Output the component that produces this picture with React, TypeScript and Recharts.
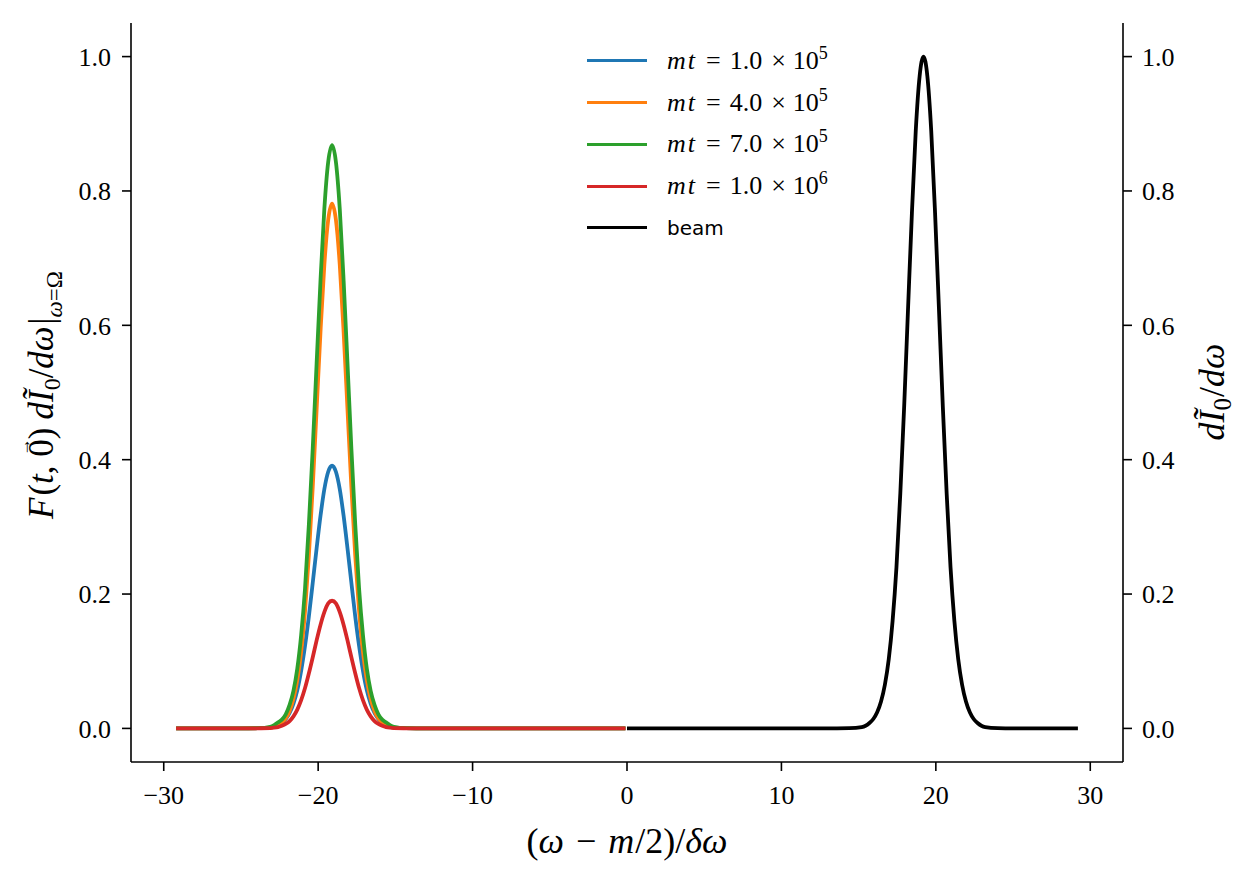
import { LineChart, Line, XAxis, YAxis, Legend } from 'recharts'

// frequency grid (in units of delta omega) for the left-hand peaks
const LEFT_X = [
  -29.2, -27, -25, -23.9,
  -23.1, -22.85, -22.6, -22.35, -22.1, -21.85, -21.6, -21.35, -21.1, -20.85, -20.6, -20.35, -20.1,
  -19.85, -19.6, -19.35, -19.1,
  -18.85, -18.6, -18.35, -18.1, -17.85, -17.6, -17.35, -17.1, -16.85, -16.6, -16.35, -16.1,
  -15.85, -15.6, -15.35, -15.1,
  -14.3, -13, -10, -5, -0.1,
]

const MT_1E5 = [
  0, 0, 0, 0.0003,
  0.0012, 0.0023, 0.0043, 0.008, 0.014, 0.023, 0.037, 0.057, 0.086, 0.123, 0.167, 0.217, 0.268,
  0.316, 0.356, 0.382, 0.391,
  0.382, 0.356, 0.316, 0.268, 0.217, 0.167, 0.123, 0.086, 0.057, 0.037, 0.023, 0.014,
  0.008, 0.0043, 0.0023, 0.0012,
  0.0003, 0, 0, 0, 0,
]

const MT_4E5 = [
  0, 0, 0, 0.0003,
  0.001, 0.0025, 0.005, 0.009, 0.015, 0.026, 0.044, 0.072, 0.114, 0.175, 0.258, 0.36, 0.475,
  0.59, 0.69, 0.757, 0.781,
  0.757, 0.69, 0.59, 0.475, 0.36, 0.258, 0.175, 0.114, 0.072, 0.044, 0.026, 0.015,
  0.009, 0.005, 0.0025, 0.001,
  0.0003, 0, 0, 0, 0,
]

const MT_7E5 = [
  0, 0, 0, 0.0004,
  0.0025, 0.005, 0.009, 0.013, 0.021, 0.035, 0.056, 0.089, 0.139, 0.208, 0.304, 0.417, 0.543,
  0.666, 0.773, 0.843, 0.868,
  0.843, 0.773, 0.666, 0.543, 0.417, 0.304, 0.208, 0.139, 0.089, 0.056, 0.035, 0.021,
  0.013, 0.009, 0.005, 0.0025,
  0.0004, 0, 0, 0, 0,
]

const MT_1E6 = [
  0, 0, 0, 0.0002,
  0.0005, 0.001, 0.002, 0.004, 0.0068, 0.011, 0.018, 0.028, 0.042, 0.06, 0.082, 0.106, 0.131,
  0.154, 0.173, 0.186, 0.19,
  0.186, 0.173, 0.154, 0.131, 0.106, 0.082, 0.06, 0.042, 0.028, 0.018, 0.011, 0.0068,
  0.004, 0.002, 0.001, 0.0005,
  0.0002, 0, 0, 0, 0,
]

// beam spectrum, right axis
const BEAM_X = [
  0, 5, 10, 13, 14.4,
  15.2, 15.45, 15.7, 15.95, 16.2, 16.45, 16.7, 16.95, 17.2, 17.45, 17.7, 17.95, 18.2,
  18.45, 18.7, 18.95, 19.2,
  19.45, 19.7, 19.95, 20.2, 20.45, 20.7, 20.95, 21.2, 21.45, 21.7, 21.95, 22.2,
  22.45, 22.7, 22.95, 23.2,
  24, 25, 27, 29.2,
]

const BEAM = [
  0, 0, 0, 0, 0.0003,
  0.002, 0.004, 0.008, 0.014, 0.024, 0.04, 0.065, 0.103, 0.16, 0.24, 0.35, 0.48, 0.625,
  0.767, 0.89, 0.971, 1.0,
  0.971, 0.89, 0.767, 0.625, 0.48, 0.35, 0.24, 0.16, 0.103, 0.065, 0.04, 0.024,
  0.014, 0.008, 0.004, 0.002,
  0.0003, 0, 0, 0,
]

const X_TICKS = [-30, -20, -10, 0, 10, 20, 30]
const Y_TICKS = [0, 0.2, 0.4, 0.6, 0.8, 1.0]

const SERIES = [
  { key: 'mt1', color: '#1f77b4', mantissa: '1.0', exp: '5' },
  { key: 'mt4', color: '#ff7f0e', mantissa: '4.0', exp: '5' },
  { key: 'mt7', color: '#2ca02c', mantissa: '7.0', exp: '5' },
  { key: 'mt10', color: '#d62728', mantissa: '1.0', exp: '6' },
]

const leftData = LEFT_X.map((x, i) => ({
  x,
  mt1: MT_1E5[i],
  mt4: MT_4E5[i],
  mt7: MT_7E5[i],
  mt10: MT_1E6[i],
}))
const beamData = BEAM_X.map((x, i) => ({ x, beam: BEAM[i] }))

const SERIF = '"Liberation Serif", "DejaVu Serif", serif'
const SANS = '"DejaVu Sans", sans-serif'
const tickStyle = { fontFamily: SERIF, fontSize: 26, fill: '#000' }
const axisLine = { stroke: '#000', strokeWidth: 1.6 }

const fmtX = (v: number) => (v < 0 ? `\u2212${Math.abs(v)}` : `${v}`)
const fmtY = (v: number) => v.toFixed(1)

function LeftLabel() {
  return (
    <text
      transform="translate(53, 395) rotate(-90)"
      textAnchor="middle"
      fontFamily={SERIF}
      fontSize={35}
      fill="#000"
    >
      <tspan fontStyle="italic">F</tspan>
      <tspan dx={2}>(</tspan>
      <tspan fontStyle="italic">t</tspan>
      <tspan>, 0</tspan>
      <tspan fontSize={18} dx={-17} dy={-23}>{'\u2192'}</tspan>
      <tspan dx={-1} dy={23}>)</tspan>
      <tspan dx={8} fontStyle="italic">d{'\u0128'}</tspan>
      <tspan fontSize={24} dy={7}>0</tspan>
      <tspan dy={-7}>/</tspan>
      <tspan fontStyle="italic">d{'\u03c9'}</tspan>
      <tspan dx={2}>|</tspan>
      <tspan fontSize={23} dy={9} fontStyle="italic">{'\u03c9'}</tspan>
      <tspan fontSize={23}>={'\u03a9'}</tspan>
    </text>
  )
}

function RightLabel() {
  return (
    <text
      transform="translate(1224, 392) rotate(-90)"
      textAnchor="middle"
      fontFamily={SERIF}
      fontSize={36}
      fill="#000"
    >
      <tspan fontStyle="italic">d{'\u0128'}</tspan>
      <tspan fontSize={25} dy={7}>0</tspan>
      <tspan dy={-7} dx={1}>/</tspan>
      <tspan fontStyle="italic">d{'\u03c9'}</tspan>
    </text>
  )
}

function BottomLabel() {
  return (
    <text x={627} y={853} textAnchor="middle" fontFamily={SERIF} fontSize={36} fill="#000">
      <tspan>(</tspan>
      <tspan fontStyle="italic">{'\u03c9'}</tspan>
      <tspan dx={12}>{'\u2212'}</tspan>
      <tspan dx={12} fontStyle="italic">m</tspan>
      <tspan dx={1}>/2)/</tspan>
      <tspan fontStyle="italic">{'\u03b4\u03c9'}</tspan>
    </text>
  )
}

function LegendBox() {
  const row = { display: 'flex', alignItems: 'center', height: 41.75, whiteSpace: 'nowrap' } as const
  const swatch = (c: string) => ({ width: 60, height: 0, borderTop: `3.5px solid ${c}`, marginRight: 20 })
  return (
    <div style={{ fontFamily: SERIF, fontSize: 26, color: '#000', lineHeight: 1 }}>
      {SERIES.map((s) => (
        <div key={s.key} style={row}>
          <div style={swatch(s.color)} />
          <span>
            <i style={{ letterSpacing: 2 }}>mt</i>
            <span style={{ margin: '0 9px 0 9px' }}>=</span>
            {s.mantissa}
            <span style={{ margin: '0 7px 0 9px' }}>{'\u00d7'}</span>
            10<sup style={{ fontSize: 18, lineHeight: 0, verticalAlign: 10 }}>{s.exp}</sup>
          </span>
        </div>
      ))}
      <div style={row}>
        <div style={swatch('#000')} />
        <span style={{ fontFamily: SANS, fontSize: 20 }}>beam</span>
      </div>
    </div>
  )
}

export default function App() {
  return (
    <div style={{ position: 'absolute', left: 0, top: 0, background: '#fff' }}>
      <LineChart width={1254} height={879} margin={{ top: 23, right: 61, bottom: 57, left: 61 }}>
        <XAxis
          xAxisId="bottom"
          dataKey="x"
          type="number"
          domain={[-32.12, 32.12]}
          ticks={X_TICKS}
          tickFormatter={fmtX}
          tick={tickStyle}
          tickSize={9}
          tickMargin={15}
          tickLine={axisLine}
          axisLine={axisLine}
          height={60}
          allowDataOverflow
          label={<BottomLabel />}
        />
        <XAxis
          xAxisId="top"
          orientation="top"
          type="number"
          domain={[-32.12, 32.12]}
          tick={false}
          tickLine={false}
          axisLine={axisLine}
          height={0}
        />
        <YAxis
          yAxisId="left"
          type="number"
          domain={[-0.05, 1.05]}
          ticks={Y_TICKS}
          tickFormatter={fmtY}
          tick={tickStyle}
          tickSize={9}
          tickMargin={11}
          tickLine={axisLine}
          axisLine={axisLine}
          width={70}
          allowDataOverflow
          label={<LeftLabel />}
        />
        <YAxis
          yAxisId="right"
          orientation="right"
          type="number"
          domain={[-0.05, 1.05]}
          ticks={Y_TICKS}
          tickFormatter={fmtY}
          tick={tickStyle}
          tickSize={9}
          tickMargin={10}
          tickLine={axisLine}
          axisLine={axisLine}
          width={70}
          allowDataOverflow
          label={<RightLabel />}
        />
        {SERIES.map((s) => (
          <Line
            key={s.key}
            data={leftData}
            dataKey={s.key}
            xAxisId="bottom"
            yAxisId="left"
            type="monotone"
            stroke={s.color}
            strokeWidth={3.8}
            dot={false}
            isAnimationActive={false}
          />
        ))}
        <Line
          data={beamData}
          dataKey="beam"
          xAxisId="bottom"
          yAxisId="right"
          type="monotone"
          stroke="#000"
          strokeWidth={3.8}
          dot={false}
          isAnimationActive={false}
        />
        <Legend
          layout="vertical"
          align="center"
          verticalAlign="middle"
          content={<LegendBox />}
          wrapperStyle={{ position: 'absolute', left: 587, top: 40, width: 340, height: 'auto' }}
        />
      </LineChart>
    </div>
  )
}
